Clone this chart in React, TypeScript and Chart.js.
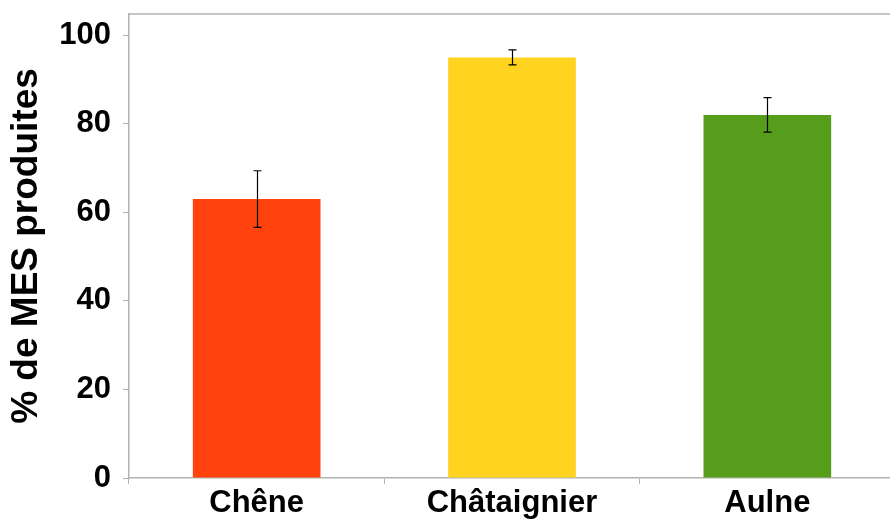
import React, { useEffect, useRef } from "react";
import { Chart, registerables } from "chart.js";

Chart.register(...registerables);

const categories = ["Chêne", "Châtaignier", "Aulne"];
const values = [63, 95, 82];
const errors = [6.4, 1.7, 3.9];
const colors = ["#ff420e", "#ffd320", "#579d1c"];
const yTicks = [0, 20, 40, 60, 80, 100];
const yTitle = "% de MES produites";

const AXIS = "#b3b3b3";
const FONT = "'Liberation Sans', Arial, sans-serif";

const errorBars = {
  id: "errorBars",
  afterDatasetsDraw(chart: any) {
    const meta = chart.getDatasetMeta(0);
    const y = chart.scales.y;
    const ctx = chart.ctx;
    ctx.save();
    ctx.strokeStyle = "#000";
    ctx.lineWidth = 1.2;
    meta.data.forEach((bar: any, i: number) => {
      const x = Math.round(bar.x) + 0.5;
      const yt = y.getPixelForValue(values[i] + errors[i]);
      const yb = y.getPixelForValue(values[i] - errors[i]);
      ctx.beginPath();
      ctx.moveTo(x, yt);
      ctx.lineTo(x, yb);
      ctx.moveTo(x - 4, yt);
      ctx.lineTo(x + 4, yt);
      ctx.moveTo(x - 4, yb);
      ctx.lineTo(x + 4, yb);
      ctx.stroke();
    });
    ctx.restore();
  },
};

const topBorder = {
  id: "topBorder",
  afterDraw(chart: any) {
    const { ctx, chartArea } = chart;
    ctx.save();
    ctx.strokeStyle = AXIS;
    ctx.lineWidth = 1.5;
    ctx.beginPath();
    ctx.moveTo(chartArea.left, chartArea.top);
    ctx.lineTo(chartArea.right, chartArea.top);
    ctx.stroke();
    ctx.restore();
  },
};

export default function App() {
  const ref = useRef<HTMLCanvasElement | null>(null);
  useEffect(() => {
    document.body.style.margin = "0";
    const chart = new Chart(ref.current as HTMLCanvasElement, {
      type: "bar",
      data: {
        labels: categories,
        datasets: [
          {
            data: values,
            backgroundColor: colors,
            barPercentage: 0.5,
            categoryPercentage: 1.0,
          },
        ],
      },
      plugins: [errorBars, topBorder],
      options: {
        responsive: false,
        animation: false,
        layout: { padding: { top: 14, right: 0, left: 0, bottom: 0 } },
        plugins: { legend: { display: false }, tooltip: { enabled: false } },
        scales: {
          x: {
            offset: true,
            grid: {
              offset: true,
              drawOnChartArea: false,
              drawTicks: true,
              tickLength: 6,
              color: AXIS,
            },
            border: { display: true, color: AXIS, width: 1.5 },
            ticks: {
              color: "#000",
              padding: 1,
              font: { family: FONT, size: 31, weight: "bold" },
              maxRotation: 0,
            },
            afterFit(scale: any) {
              scale.height = 41;
              scale.paddingLeft = 0;
              scale.paddingRight = 0;
            },
          },
          y: {
            min: 0,
            max: 104.8,
            grid: {
              drawOnChartArea: false,
              drawTicks: true,
              tickLength: 6,
              color: AXIS,
            },
            border: { display: true, color: AXIS, width: 1.5 },
            ticks: {
              stepSize: 20,
              includeBounds: false,
              color: "#000",
              padding: 12,
              font: { family: FONT, size: 31, weight: "bold" },
              callback: (v: any) => (yTicks.includes(Number(v)) ? String(v) : ""),
            },
            title: {
              display: true,
              text: yTitle,
              color: "#000",
              font: { family: FONT, size: 37, weight: "bold" },
              padding: { top: 5, bottom: 0 },
            },
            afterFit(scale: any) {
              scale.width = 129;
              scale.paddingTop = 0;
              scale.paddingBottom = 0;
            },
          },
        },
      },
    });
    return () => chart.destroy();
  }, []);
  return (
    <div style={{ width: 890, height: 519, overflow: "hidden", background: "#fff" }}>
      <canvas ref={ref} width={895} height={519} style={{ display: "block" }} />
    </div>
  );
}
